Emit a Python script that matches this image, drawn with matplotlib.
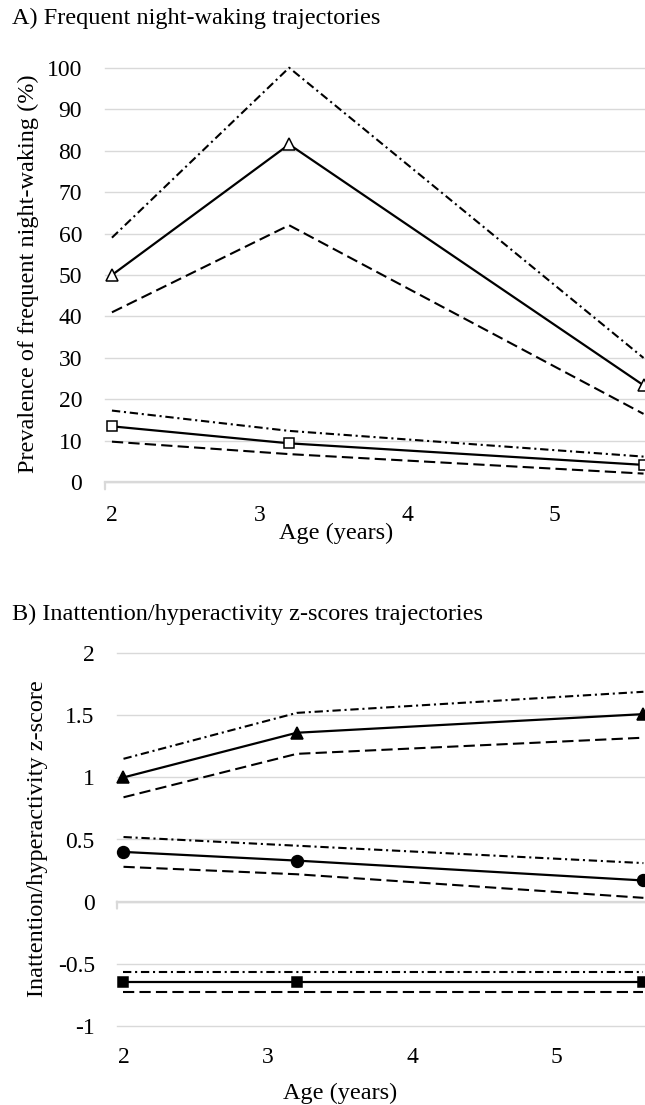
import matplotlib
matplotlib.use('Agg')
import matplotlib.pyplot as plt

plt.rcParams['font.family'] = ['Liberation Serif', 'DejaVu Serif']
plt.rcParams['axes.unicode_minus'] = False

# ages of measurement (years)
ages = [2, 3.2, 5.6]
age_ticks = [2, 3, 4, 5]

# A) frequent night-waking prevalence (%), estimate + CI bounds
nw_high = [50, 81.5, 23.4]
nw_high_lo = [41, 62, 16.5]
nw_high_hi = [59, 100, 30]
nw_low = [13.5, 9.4, 4.2]
nw_low_lo = [9.8, 6.8, 2.1]
nw_low_hi = [17.3, 12.4, 6.2]
nw_ticks = [0, 10, 20, 30, 40, 50, 60, 70, 80, 90, 100]

# B) inattention/hyperactivity z-scores
ih_high = [1.0, 1.36, 1.51]
ih_high_lo = [0.84, 1.19, 1.32]
ih_high_hi = [1.15, 1.52, 1.69]
ih_mid = [0.40, 0.33, 0.17]
ih_mid_lo = [0.28, 0.22, 0.03]
ih_mid_hi = [0.52, 0.45, 0.31]
ih_low = [-0.65, -0.65, -0.65]
ih_low_lo = [-0.73, -0.73, -0.73]
ih_low_hi = [-0.57, -0.57, -0.57]
ih_ticks = [-1, -0.5, 0, 0.5, 1, 1.5, 2]
ih_ticklabels = ['-1', '-0.5', '0', '0.5', '1', '1.5', '2']

W, H = 645.0, 1105.0
fig = plt.figure(figsize=(W / 100, H / 100), dpi=100)
GRID = '#d9d9d9'
FS = 17.5


def add_ax(left, top, right, bottom):
    return fig.add_axes([left / W, 1 - bottom / H, (right - left) / W, (bottom - top) / H])


def style(ax, xlim, ylim, yticks, pad_x, pad_y):
    ax.set_xlim(xlim)
    ax.set_ylim(ylim)
    ax.set_xticks(age_ticks)
    ax.set_yticks(yticks)
    for s in ax.spines.values():
        s.set_visible(False)
    ax.tick_params(axis='x', length=0, labelsize=17, pad=pad_x)
    ax.tick_params(axis='y', length=0, labelsize=17, pad=pad_y)
    ax.yaxis.grid(True, color=GRID, lw=1.0)
    for gl in ax.get_ygridlines():
        gl.set_clip_on(False)
    ax.set_axisbelow(True)
    # axis line at zero with the small tick on its left end
    ax.axhline(0, color=GRID, lw=1.7, zorder=1, clip_on=False)
    ax.annotate('', xy=(0, 0), xycoords=('axes fraction', 'data'),
                xytext=(0, -7), textcoords='offset pixels',
                arrowprops=dict(arrowstyle='-', color=GRID, lw=1.6,
                                shrinkA=0, shrinkB=0))


def trio(ax, est, lo, hi, marker, ms, filled):
    ax.plot(ages, hi, color='k', lw=1.5, ls=(0, (4.0, 1.8, 1, 1.8)), clip_on=False, zorder=2)
    ax.plot(ages, lo, color='k', lw=1.5, ls=(0, (5.4, 2.5)), clip_on=False, zorder=2)
    ax.plot(ages, est, color='k', lw=1.6, marker=marker, ms=ms,
            mfc='k' if filled else 'white', mec='k', mew=1.1,
            clip_on=False, zorder=3)


# panel A
axA = add_ax(105, 67.7, 645, 482.3)
style(axA, (1.953, 5.61), (0, 100), nw_ticks, 16, 16.5)
trio(axA, nw_high, nw_high_lo, nw_high_hi, '^', 8, False)
trio(axA, nw_low, nw_low_lo, nw_low_hi, 's', 7.8, False)

fig.text(12 / W, 1 - 18 / H, 'A) Frequent night-waking trajectories',
         ha='left', va='center', fontsize=FS)
fig.text(28 / W, 1 - 274 / H, 'Prevalence of frequent night-waking (%)',
         rotation=90, ha='center', va='center', fontsize=FS)
fig.text(336 / W, 1 - 533 / H, 'Age (years)', ha='center', va='center', fontsize=FS)

# panel B
axB = add_ax(117, 653.3, 645, 1025.7)
style(axB, (1.955, 5.611), (-1, 2), ih_ticks, 15.5, 16)
axB.set_yticklabels(ih_ticklabels)
trio(axB, ih_high, ih_high_lo, ih_high_hi, '^', 8.5, True)
trio(axB, ih_mid, ih_mid_lo, ih_mid_hi, 'o', 8.5, True)
trio(axB, ih_low, ih_low_lo, ih_low_hi, 's', 7.8, True)

fig.text(12 / W, 1 - 614 / H, 'B) Inattention/hyperactivity z-scores trajectories',
         ha='left', va='center', fontsize=FS)
fig.text(38 / W, 1 - 839 / H, 'Inattention/hyperactivity z-score',
         rotation=90, ha='center', va='center', fontsize=FS)
fig.text(340 / W, 1 - 1093 / H, 'Age (years)', ha='center', va='center', fontsize=FS)

fig.savefig('out.png', dpi=100)
